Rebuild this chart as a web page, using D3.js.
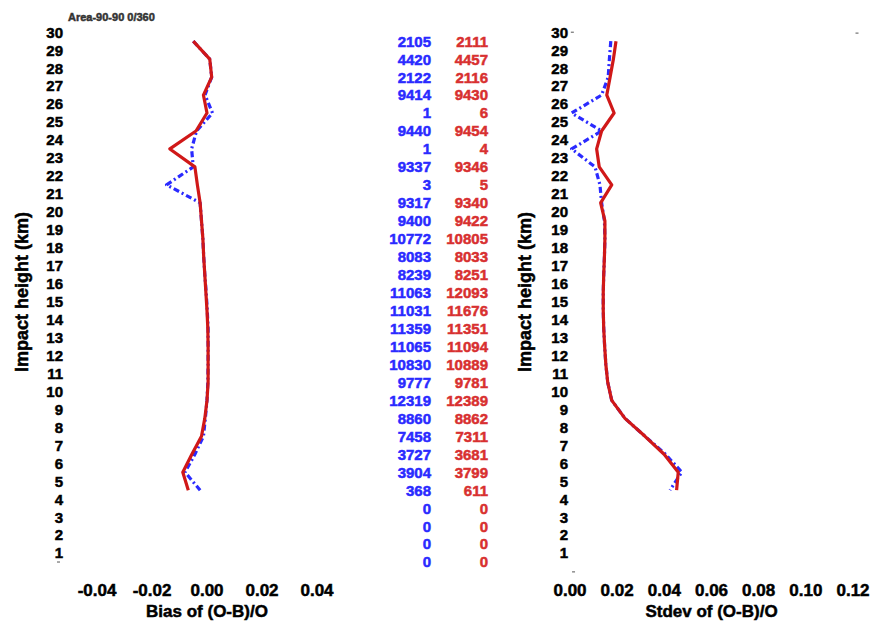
<!DOCTYPE html>
<html><head><meta charset="utf-8">
<script src="https://cdn.jsdelivr.net/npm/d3@7"></script>
<style>
html,body{margin:0;padding:0;background:#fff;}
text{font-family:"Liberation Sans",Arial,Helvetica,sans-serif;font-weight:bold;}
</style></head>
<body>
<script>
// ---- data ----
const title = "Area-90-90 0/360";
const levels = [29.5,28.5,27.5,26.5,25.5,24.5,23.5,22.5,21.5,20.5,19.5,18.5,17.5,16.5,15.5,14.5,13.5,12.5,11.5,10.5,9.5,8.5,7.5,6.5,5.5,4.5];
const countLevels = [29.5,28.5,27.5,26.5,25.5,24.5,23.5,22.5,21.5,20.5,19.5,18.5,17.5,16.5,15.5,14.5,13.5,12.5,11.5,10.5,9.5,8.5,7.5,6.5,5.5,4.5,3.5,2.5,1.5,0.5];
const countsBlue = [2105,4420,2122,9414,1,9440,1,9337,3,9317,9400,10772,8083,8239,11063,11031,11359,11065,10830,9777,12319,8860,7458,3727,3904,368,0,0,0,0];
const countsRed  = [2111,4457,2116,9430,6,9454,4,9346,5,9340,9422,10805,8033,8251,12093,11676,11351,11094,10889,9781,12389,8862,7311,3681,3799,611,0,0,0,0];
const biasRed  = [-0.005,0.001,0.0017,-0.0013,0.0,-0.004,-0.0135,-0.0044,-0.0035,-0.0025,-0.002,-0.0015,-0.0012,-0.0008,-0.0004,0.0,0.0003,0.0004,0.0004,0.0004,0.0,-0.0008,-0.002,-0.0055,-0.0088,-0.0068];
const biasBlue = [-0.005,0.001,0.0017,-0.0007,0.002,-0.0038,-0.0056,-0.005,-0.0147,-0.0025,-0.002,-0.0015,-0.0012,-0.0008,-0.0003,0.0001,0.0004,0.0004,0.0004,0.0003,0.0,-0.0006,-0.0013,-0.0044,-0.008,-0.0025];
const sdRed  = [0.0195,0.0184,0.017,0.0156,0.0187,0.0134,0.0113,0.0124,0.0177,0.013,0.0148,0.0148,0.0146,0.0143,0.0141,0.0141,0.0143,0.0147,0.0152,0.016,0.0177,0.0233,0.0318,0.0399,0.0459,0.0452];
const sdBlue = [0.0173,0.0167,0.0162,0.0134,0.0007,0.0134,0.0007,0.0106,0.0127,0.0134,0.0146,0.0148,0.0146,0.0143,0.0141,0.0141,0.0143,0.0147,0.0152,0.016,0.0177,0.0233,0.0318,0.0405,0.0474,0.0424];
const yTicks = d3.range(1,31);
const biasTicks = [-0.04,-0.02,0.00,0.02,0.04];
const sdTicks = [0.00,0.02,0.04,0.06,0.08,0.10,0.12];
const yTitle = "Impact height (km)";
const biasTitle = "Bias of (O-B)/O";
const sdTitle = "Stdev of (O-B)/O";

// ---- drawing ----
const W=882,H=623;
const svg=d3.select("body").append("svg").attr("width",W).attr("height",H);
svg.append("rect").attr("width",W).attr("height",H).attr("fill","#fff");

const y=d3.scaleLinear().domain([0,30]).range([571,32.2]);
const xB=d3.scaleLinear().domain([-0.04,0.04]).range([97,317]);
const xS=d3.scaleLinear().domain([0,0.12]).range([570,853]);
const RED="#d01818", BLUE="#2a2aff";

function heavy(sel,color){ return sel.attr("fill",color).attr("stroke",color).attr("stroke-width",0.5); }

heavy(svg.append("text").attr("x",68).attr("y",21).attr("font-size",11).text(title),"#333");

function yAxisLabels(xr){
  heavy(svg.append("g").selectAll("text").data(yTicks).join("text")
    .attr("x",xr).attr("y",d=>y(d)).attr("dy","0.36em")
    .attr("text-anchor","end").attr("font-size",15).text(d=>d),"#000");
}
yAxisLabels(63); yAxisLabels(568);

function yTitleAt(x){
  heavy(svg.append("text").attr("transform",`translate(${x},292) rotate(-90)`)
    .attr("text-anchor","middle").attr("dy","0.36em").attr("font-size",18).text(yTitle),"#000");
}
yTitleAt(22); yTitleAt(525);

heavy(svg.append("g").selectAll("text").data(biasTicks).join("text")
  .attr("x",d=>xB(d)).attr("y",590).attr("dy","0.36em").attr("text-anchor","middle")
  .attr("font-size",17).text(d=>d3.format(".2f")(d).replace("−","-")),"#000");
heavy(svg.append("text").attr("x",xB(0)).attr("y",611).attr("dy","0.36em").attr("text-anchor","middle")
  .attr("font-size",17).text(biasTitle),"#000");
heavy(svg.append("g").selectAll("text").data(sdTicks).join("text")
  .attr("x",d=>xS(d)).attr("y",590).attr("dy","0.36em").attr("text-anchor","middle")
  .attr("font-size",17).text(d=>d3.format(".2f")(d)),"#000");
heavy(svg.append("text").attr("x",xS(0.06)).attr("y",611).attr("dy","0.36em").attr("text-anchor","middle")
  .attr("font-size",17).text(sdTitle),"#000");

// frame corner marks
[[xB(-0.054),y(0.5)],[xS(0.001),y(30)],[xS(0.1217),y(29.95)],[xS(0.0015),y(-0.05)]].forEach(p=>{
  svg.append("line").attr("x1",p[0]-1.5).attr("x2",p[0]+1.5).attr("y1",p[1]).attr("y2",p[1]).attr("stroke","#555").attr("stroke-width",1);
});

function drawLine(xs, vals, color, dashed){
  const line=d3.line().x((d,i)=>xs(vals[i])).y((d)=>y(d));
  svg.append("path").datum(levels).attr("d",line).attr("fill","none").attr("stroke",color)
    .attr("stroke-width",3.2).attr("stroke-linejoin","round")
    .attr("stroke-dasharray",dashed?"6,3,2,3":null);
}
drawLine(xB,biasBlue,BLUE,true);
drawLine(xB,biasRed,RED,false);
drawLine(xS,sdBlue,BLUE,true);
drawLine(xS,sdRed,RED,false);

heavy(svg.append("g").selectAll("text").data(countsBlue).join("text")
  .attr("x",431).attr("y",(d,i)=>y(countLevels[i])).attr("dy","0.36em").attr("text-anchor","end")
  .attr("font-size",15).text(d=>d),BLUE);
heavy(svg.append("g").selectAll("text").data(countsRed).join("text")
  .attr("x",488).attr("y",(d,i)=>y(countLevels[i])).attr("dy","0.36em").attr("text-anchor","end")
  .attr("font-size",15).text(d=>d),"#d83030");
</script>
</body></html>
